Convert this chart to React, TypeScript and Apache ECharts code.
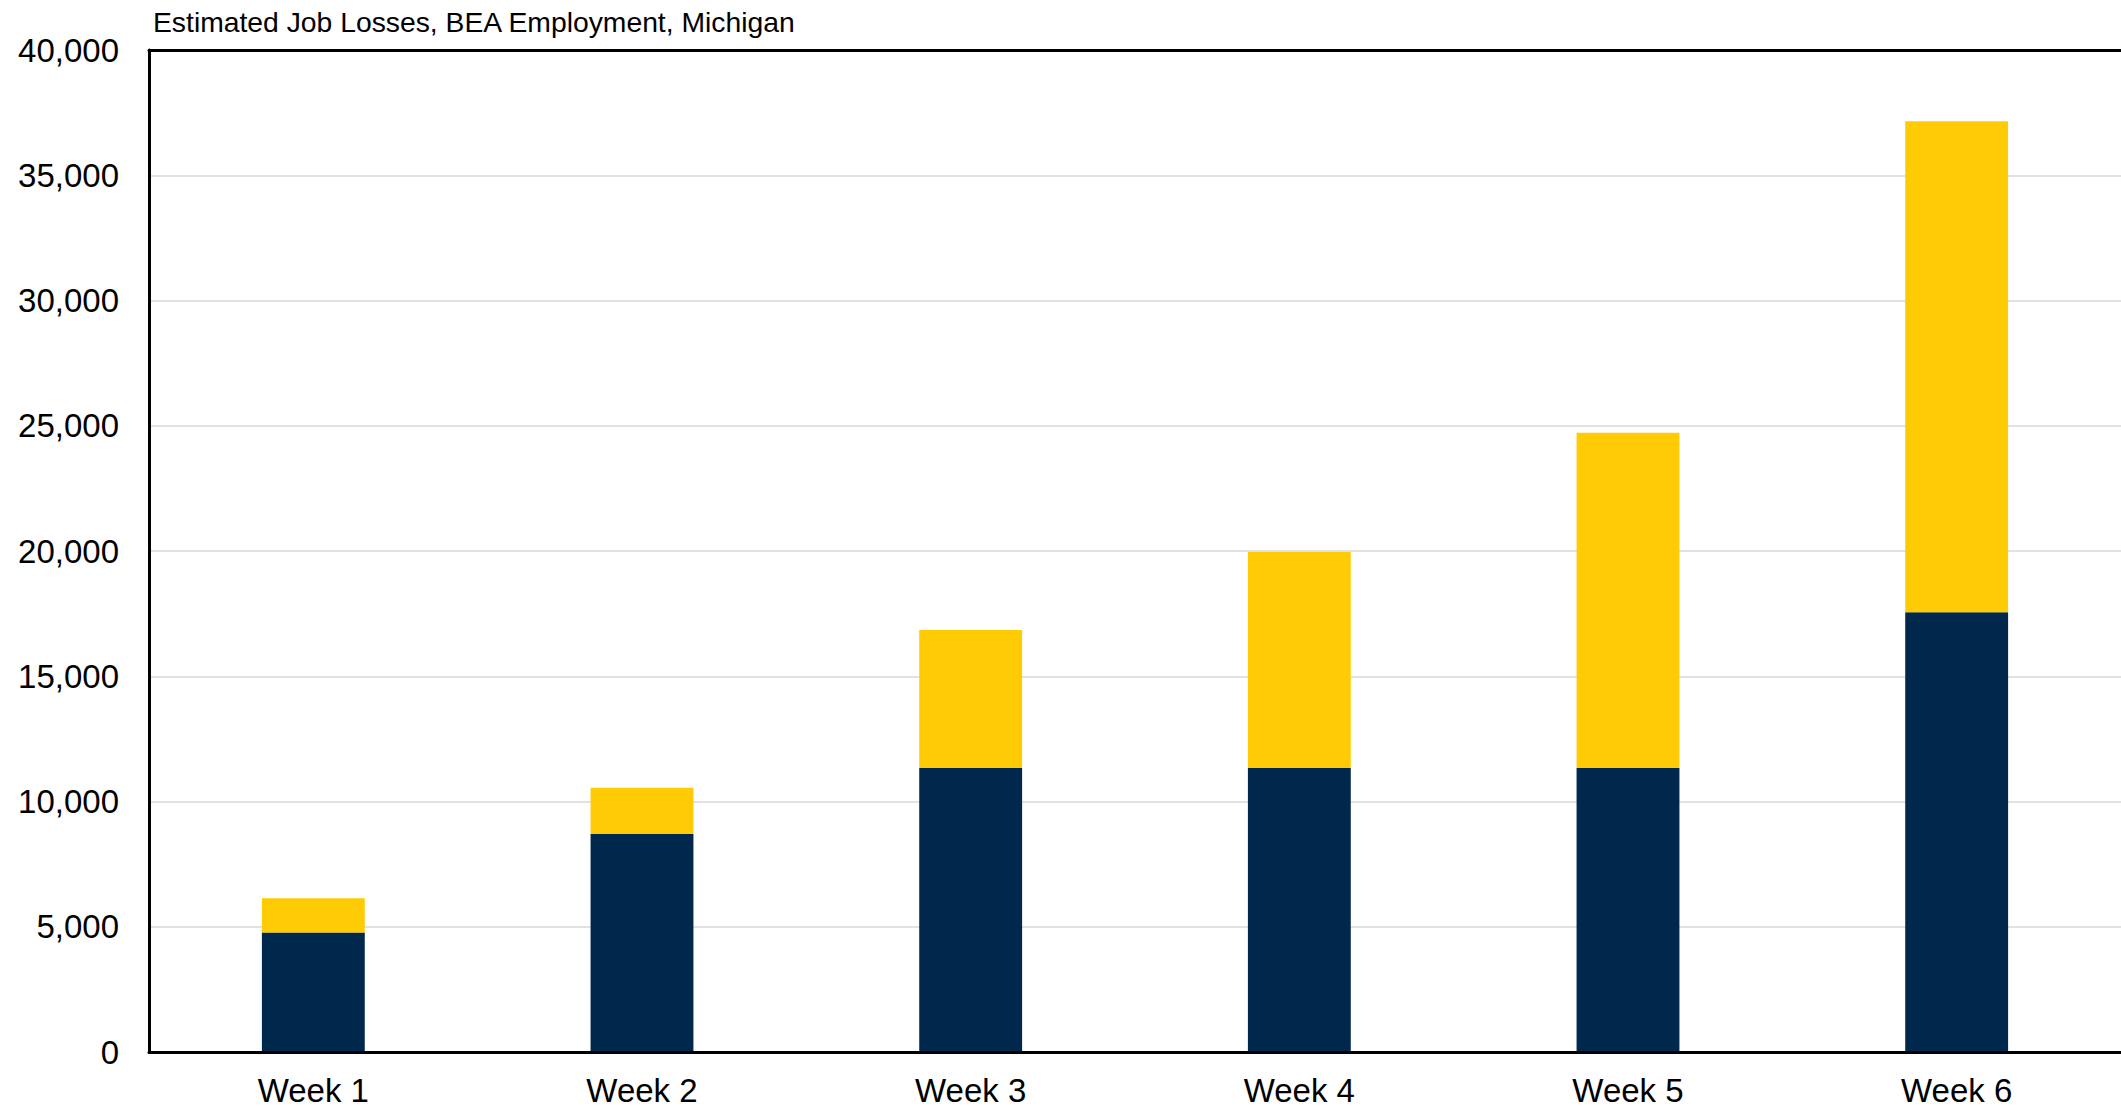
import React, { useEffect, useRef } from "react";
import * as echarts from "echarts";

const categories = ["Week 1", "Week 2", "Week 3", "Week 4", "Week 5", "Week 6"];
const baseLosses = [4770, 8710, 11350, 11350, 11350, 17550];
const addedLosses = [1370, 1835, 5500, 8610, 13370, 19610];
const yTicks = [0, 5000, 10000, 15000, 20000, 25000, 30000, 35000, 40000];
const chartTitle = "Estimated Job Losses, BEA Employment, Michigan";

const NAVY = "#00274C";
const MAIZE = "#FFCB05";
const FONT = "'Liberation Sans', Arial, sans-serif";

export default function App() {
  const ref = useRef<HTMLDivElement>(null);

  useEffect(() => {
    document.body.style.margin = "0";
    document.body.style.overflow = "hidden";
    const chart = echarts.init(ref.current!, null, { renderer: "svg" });
    chart.setOption({
      animation: false,
      backgroundColor: "#ffffff",
      textStyle: { fontFamily: FONT },
      title: {
        text: chartTitle,
        left: 148,
        top: 3,
        textStyle: { fontFamily: FONT, fontSize: 28.3, fontWeight: "normal", color: "#000" },
      },
      grid: {
        left: 149,
        top: 50,
        right: -10,
        bottom: 1108 - 1052,
        show: false,
      },
      xAxis: [
        {
          type: "category",
          data: categories,
          axisLine: { show: true, lineStyle: { color: "#000", width: 3 } },
          axisTick: { show: false },
          axisLabel: { fontFamily: FONT, fontSize: 33, color: "#000", margin: 22 },
          z: 5,
        },
        {
          type: "category",
          position: "top",
          data: categories,
          axisLine: { show: true, lineStyle: { color: "#000", width: 3 } },
          axisTick: { show: false },
          axisLabel: { show: false },
          z: 5,
        },
      ],
      yAxis: {
        type: "value",
        min: yTicks[0],
        max: yTicks[yTicks.length - 1],
        interval: 5000,
        axisLine: { show: true, lineStyle: { color: "#000", width: 3 } },
        axisTick: { show: false },
        splitLine: { show: true, lineStyle: { color: "#D9D9D9", width: 1.5 } },
        axisLabel: {
          fontFamily: FONT,
          fontSize: 33,
          color: "#000",
          margin: 30,
          formatter: (v: number) => v.toLocaleString("en-US"),
        },
      },
      series: [
        {
          name: "Base",
          type: "bar",
          stack: "total",
          data: baseLosses,
          barWidth: "31.3%",
          itemStyle: { color: NAVY },
        },
        {
          name: "Added",
          type: "bar",
          stack: "total",
          data: addedLosses,
          barWidth: "31.3%",
          itemStyle: { color: MAIZE },
        },
      ],
    });
    return () => chart.dispose();
  }, []);

  return <div ref={ref} style={{ width: 2121, height: 1108 }} />;
}
